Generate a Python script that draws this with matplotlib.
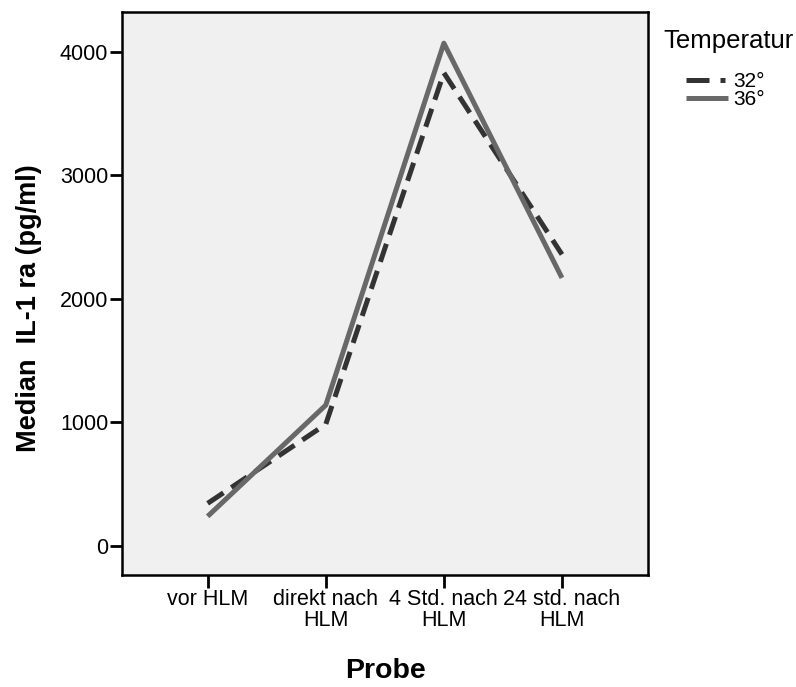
import matplotlib.pyplot as plt
from matplotlib.lines import Line2D

plt.rcParams['font.family'] = ['Liberation Sans', 'DejaVu Sans']

categories = ["vor HLM", "direkt nach\nHLM", "4 Std. nach\nHLM", "24 std. nach\nHLM"]
median_32 = [345, 985, 3830, 2360]
median_36 = [240, 1140, 4070, 2170]
yticks = [0, 1000, 2000, 3000, 4000]
c32 = '#333333'
c36 = '#686868'

fig = plt.figure(figsize=(7.96, 6.87), dpi=100)
ax = fig.add_axes([0.1533, 0.163, 0.661, 0.82])
ax.set_facecolor('#f0f0f0')

x = range(len(categories))
ax.plot(x, median_32, color=c32, lw=3.6, dashes=(3.8, 1.9),
        solid_capstyle='butt', dash_capstyle='butt')
ax.plot(x, median_36, color=c36, lw=3.6, solid_capstyle='butt')

ax.set_xlim(-0.725, 3.73)
ax.set_ylim(-235, 4325)
ax.set_xticks(list(x))
ax.set_xticklabels(categories, fontsize=15.5, linespacing=1.0)
ax.set_yticks(yticks)
ax.set_yticklabels([str(v) for v in yticks], fontsize=15.5)
ax.tick_params(direction='out', length=9, width=2, color='black', pad=1)
for s in ax.spines.values():
    s.set_linewidth(1.8)
    s.set_color('black')

ax.set_xlabel('Probe', fontsize=20.5, fontweight='bold')
ax.xaxis.set_label_coords(0.5, -0.148)
ax.set_ylabel('Median  IL-1 ra (pg/ml)', fontsize=19.5, fontweight='bold')
ax.yaxis.set_label_coords(-0.152, 0.474)

# legend: title on its own, entries indented like the original
fig.text(663 / 796, 1 - 41 / 687, 'Temperatur', fontsize=18.5, ha='left', va='center')
handles = [Line2D([], [], color=c32, lw=3.6, dashes=(4.6, 2.2, 1.0, 2.2), dash_capstyle='butt'),
           Line2D([], [], color=c36, lw=3.6, solid_capstyle='butt')]
leg = fig.legend(handles, ['32°', '36°'], loc='upper left',
                 bbox_to_anchor=(686 / 796, 1 - 72 / 687), frameon=False,
                 fontsize=15, handlelength=2.0, handletextpad=0.25,
                 labelspacing=-0.05, borderpad=0, borderaxespad=0)

fig.savefig('out.png', dpi=100)
